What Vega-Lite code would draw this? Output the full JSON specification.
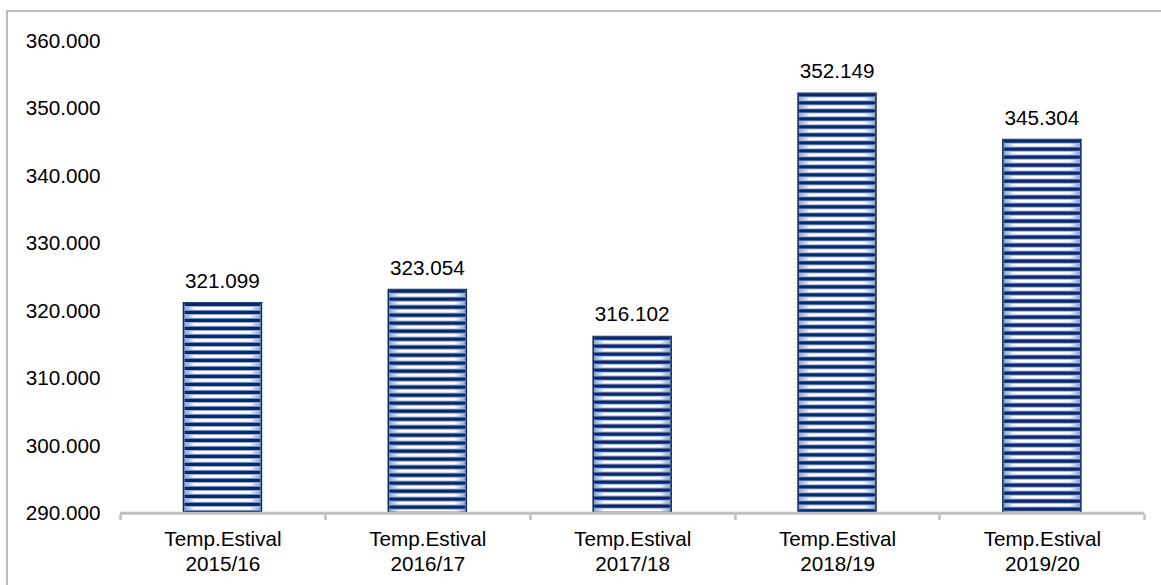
{
  "$schema": "https://vega.github.io/schema/vega-lite/v6.json",
  "width": 1154,
  "height": 574,
  "autosize": {"type": "none"},
  "padding": {"left": 7, "top": 11, "right": 0, "bottom": 0},
  "background": "#ffffff",
  "config": {
    "view": {"stroke": "#A6A6A6", "strokeWidth": 1.5, "strokeDash": [1154, 1728, 574]},
    "font": "Liberation Sans"
  },
  "data": {
    "values": [
      {"cat": "Temp.Estival 2015/16", "v": 321099},
      {"cat": "Temp.Estival 2016/17", "v": 323054},
      {"cat": "Temp.Estival 2017/18", "v": 316102},
      {"cat": "Temp.Estival 2018/19", "v": 352149},
      {"cat": "Temp.Estival 2019/20", "v": 345304}
    ]
  },
  "transform": [
    {"calculate": "replace(format(datum.v, ','), ',', '.')", "as": "lbl"}
  ],
  "encoding": {
    "x": {
      "field": "cat",
      "type": "nominal",
      "sort": null,
      "scale": {"type": "band", "paddingInner": 0, "paddingOuter": 0.3166, "align": 0.8713},
      "axis": {
        "orient": "bottom",
        "offset": -71.5,
        "title": null,
        "domain": false,
        "grid": false,
        "ticks": true,
        "tickBand": "extent",
        "tickColor": "#BFBFBF",
        "tickWidth": 2.5,
        "tickSize": 6,
        "labelAngle": 0,
        "labelExpr": "split(datum.label, ' ')",
        "labelLineHeight": 24.5,
        "labelPadding": 10,
        "labelFont": "Liberation Sans",
        "labelFontSize": 20.7,
        "labelColor": "#000000"
      }
    },
    "y": {
      "field": "v",
      "type": "quantitative",
      "scale": {"domain": [279250, 364362], "nice": false, "zero": false},
      "axis": {
        "orient": "left",
        "offset": -93,
        "title": null,
        "domain": false,
        "grid": false,
        "ticks": false,
        "values": [290000, 300000, 310000, 320000, 330000, 340000, 350000, 360000],
        "labelExpr": "replace(format(datum.value, ','), ',', '.')",
        "labelPadding": 0,
        "labelOffset": 1,
        "labelFont": "Liberation Sans",
        "labelFontSize": 20.7,
        "labelColor": "#000000"
      }
    }
  },
  "layer": [
    {
      "mark": {
        "type": "bar",
        "width": 78,
        "stroke": "#0B2868",
        "strokeWidth": 1.5,
        "fill": {
          "gradient": "linear",
          "x1": 0, "y1": 0, "x2": 1, "y2": 0,
          "stops": [
            {"offset": 0, "color": "#7F9BD0"},
            {"offset": 0.15, "color": "#FFFFFF"},
            {"offset": 0.85, "color": "#FFFFFF"},
            {"offset": 1, "color": "#7F9BD0"}
          ]
        }
      },
      "encoding": {"y2": {"datum": 290000}}
    },
    {
      "mark": {
        "type": "rule",
        "strokeWidth": 76,
        "stroke": "#98B0DC",
        "strokeDash": [5.2, 2.8],
        "strokeDashOffset": 1
      },
      "encoding": {"y2": {"datum": 290000}}
    },
    {
      "mark": {
        "type": "rule",
        "strokeWidth": 76,
        "stroke": "#0B2868",
        "strokeDash": [3.2, 4.8]
      },
      "encoding": {"y2": {"datum": 290000}}
    },
    {
      "mark": {"type": "bar", "color": "#BFBFBF"},
      "encoding": {
        "y": {"datum": 290100},
        "y2": {"datum": 289650}
      }
    },
    {
      "mark": {
        "type": "text",
        "dy": -15,
        "baseline": "alphabetic",
        "align": "center",
        "font": "Liberation Sans",
        "fontSize": 20.7,
        "color": "#000000"
      },
      "encoding": {"text": {"field": "lbl"}}
    }
  ]
}
